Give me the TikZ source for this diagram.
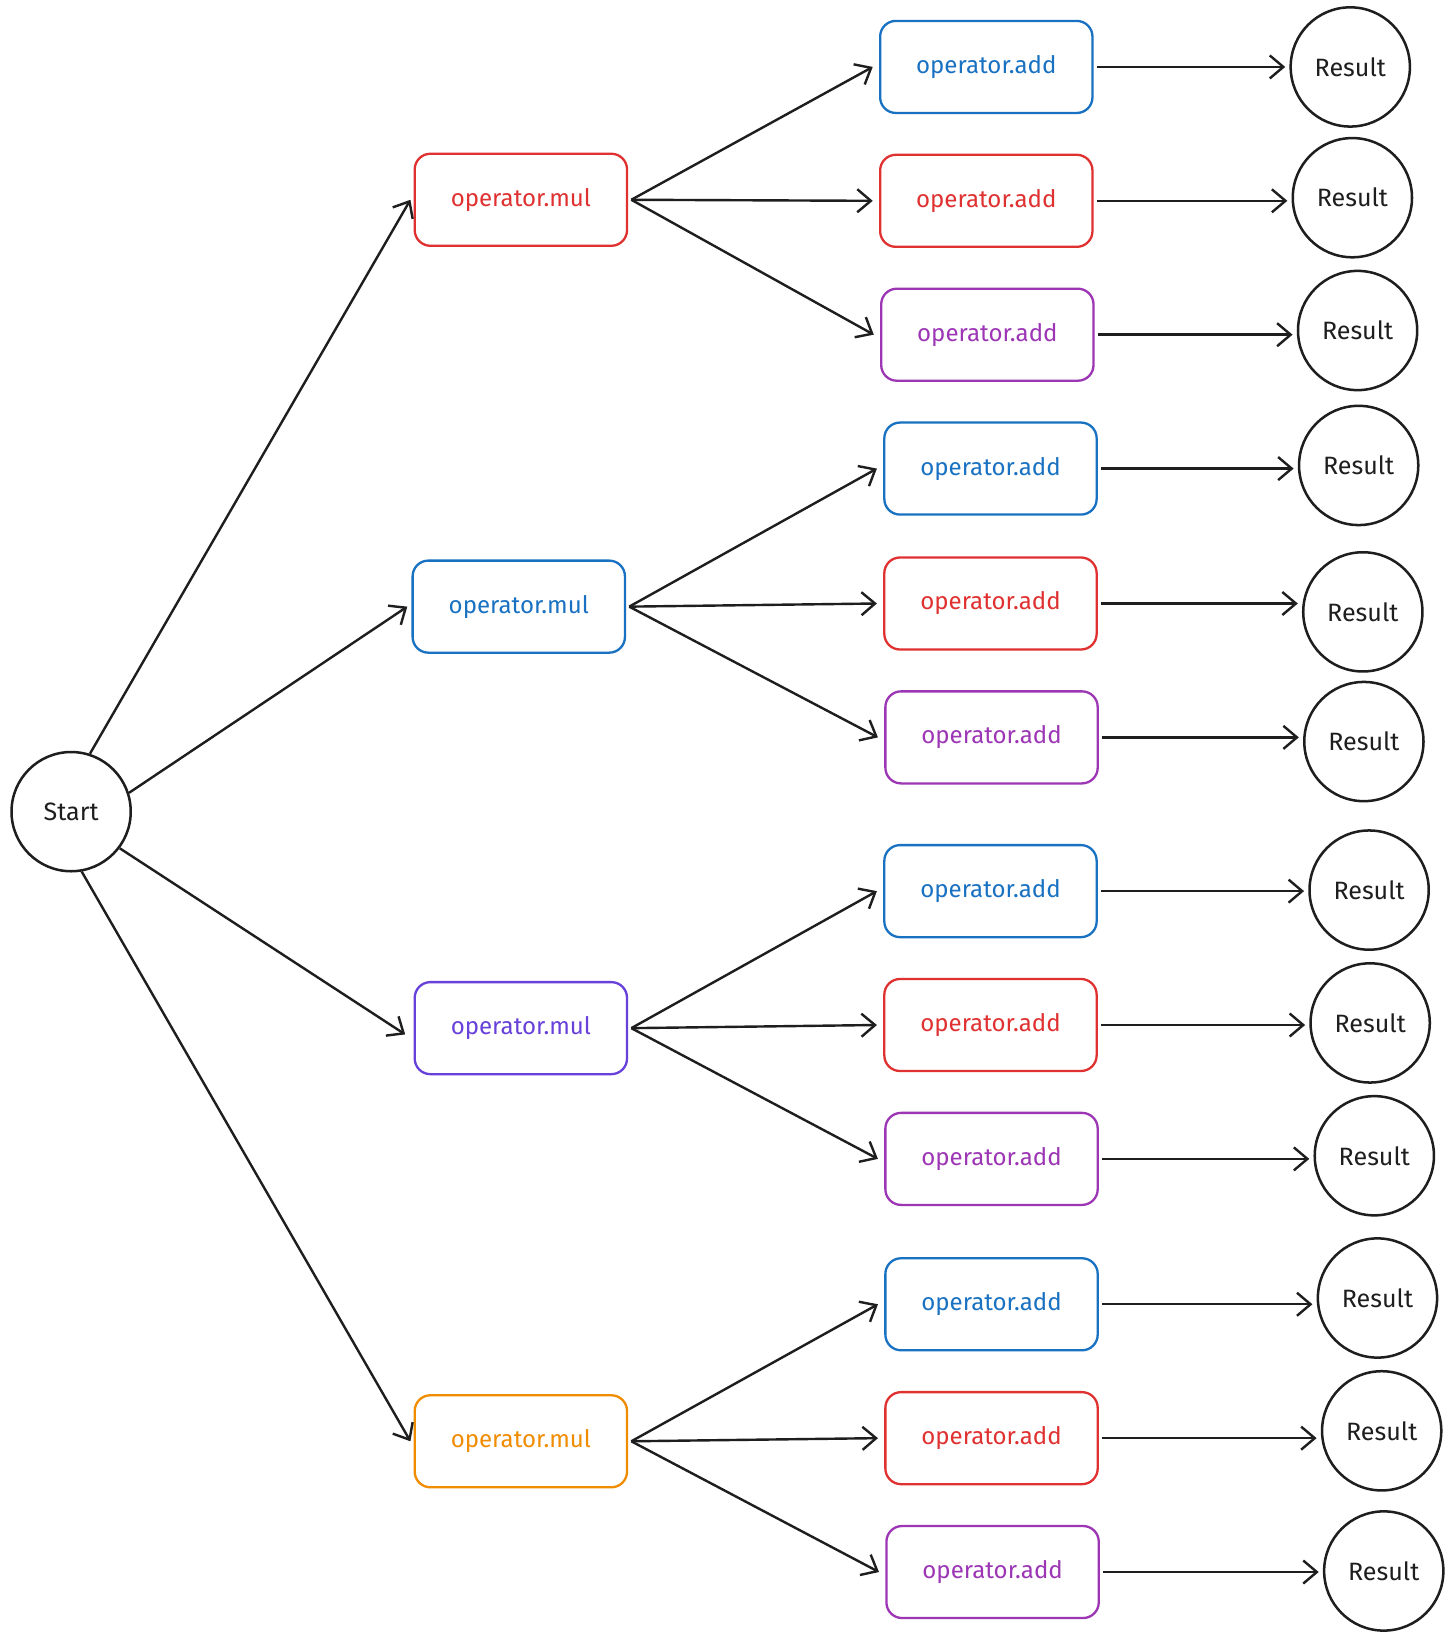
\documentclass[tikz,border=0pt]{standalone}
\usepackage{fontspec}
\setmainfont{Fira Sans}
\usetikzlibrary{arrows.meta}
\definecolor{exred}{HTML}{E03131}
\definecolor{exblue}{HTML}{1971C2}
\definecolor{expurple}{HTML}{9C36B5}
\definecolor{exviolet}{HTML}{6741D9}
\definecolor{exorange}{HTML}{F08C00}
\definecolor{exblack}{HTML}{1E1E1E}
\begin{document}
\begin{tikzpicture}[x=1pt,y=-1pt,
  opbox/.style={draw, rounded corners=15pt, minimum width=203pt, minimum height=88pt, line width=2.2pt, font=\fontsize{23}{27}\selectfont},
  circ/.style={draw=exblack, circle, minimum size=114pt, inner sep=0pt, line width=2.4pt, text=exblack, font=\fontsize{24}{28}\selectfont},
  arr/.style={draw=exblack, line width=2.3pt, -{Straight Barb[length=13pt,width=22pt,line width=2.3pt]}}]
\useasboundingbox[fill=white] (0,0) rectangle (1392,1568);

\node[circ] (s) at (68,776) {Start};

\foreach \i/\x/\y/\c in {1/498/191/exred, 2/496/580/exblue, 3/498/983/exviolet, 4/498/1378/exorange}
  \node[opbox, draw=\c, text=\c] (m\i) at (\x,\y) {operator.mul};

\foreach \i/\x/\y/\c in {1/943/64/exblue, 2/943/192/exred, 3/944/320/expurple,
  4/947/448/exblue, 5/947/577/exred, 6/948/705/expurple,
  7/947/852/exblue, 8/947/980/exred, 9/948/1108/expurple,
  10/948/1247/exblue, 11/948/1375/exred, 12/949/1503/expurple}
  \node[opbox, draw=\c, text=\c] (a\i) at (\x,\y) {operator.add};

\foreach \i/\x/\y in {1/1291/64, 2/1293/189, 3/1298/316, 4/1299/445, 5/1303/585, 6/1304/709,
  7/1309/851, 8/1310/978, 9/1314/1105, 10/1317/1241, 11/1321/1368, 12/1323/1502}
  \node[circ] (r\i) at (\x,\y) {Result};

\draw[arr] (s.72) -- ([xshift=-3pt]m1.west);
\draw[arr] (s.18) -- ([xshift=-4pt]m2.west);
\draw[arr] (s.-37) -- ([xshift=-8pt,yshift=-6pt]m3.west);
\draw[arr] (s.-80) -- ([xshift=-3pt]m4.west);

\foreach \m in {1,...,4}
  \foreach \k in {0,1,2}{
    \pgfmathtruncatemacro{\n}{3*\m-2+\k}
    \draw[arr] ([xshift=3pt]m\m.east) -- ([xshift=-6pt]a\n.west);
  }

\foreach \n in {1,...,12}
  \draw[arr] ([xshift=3pt]a\n.east) -- ([xshift=-4pt]r\n.west |- a\n.east);
\end{tikzpicture}
\end{document}
